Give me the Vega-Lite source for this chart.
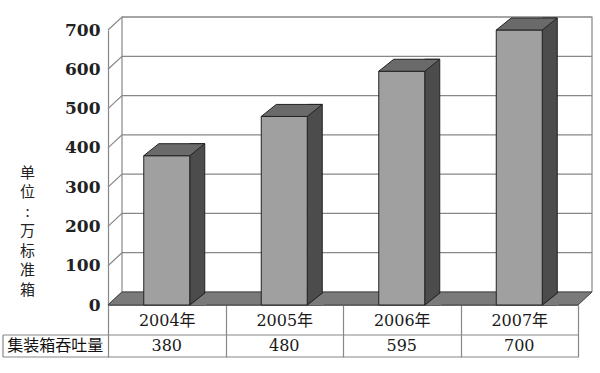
{
  "$schema": "https://vega.github.io/schema/vega-lite/v6.json",
  "width": 470,
  "height": 275,
  "autosize": {"type": "none"},
  "padding": {"left": 108, "top": 30, "right": 22, "bottom": 68},
  "background": "white",
  "config": {
    "view": {"stroke": null},
    "axisX": {
      "domainColor": "#888", "domainWidth": 1.2,
      "tickColor": "#888", "tickWidth": 1.2, "tickSize": 52, "tickBand": "extent",
      "labelFont": "DejaVu Serif, Noto Sans CJK SC", "labelFontSize": 16, "labelColor": "#1a1a1a",
      "labelPadding": -45, "labelAngle": 0, "grid": false, "zindex": 1
    },
    "axisY": {
      "domainColor": "#888", "domainWidth": 1.2, "ticks": false, "grid": false, "labelOverlap": false,
      "tickCount": 8,
      "labelFont": "DejaVu Serif", "labelFontSize": 17, "labelFontWeight": "bold", "labelColor": "#222", "labelPadding": 8
    }
  },
  "datasets": {
    "main": [
      {"year": "2004年", "value": 380},
      {"year": "2005年", "value": 480},
      {"year": "2006年", "value": 595},
      {"year": "2007年", "value": 700}
    ],
    "ticks": [
      {"tick": 0}, {"tick": 100}, {"tick": 200}, {"tick": 300},
      {"tick": 400}, {"tick": 500}, {"tick": 600}, {"tick": 700}
    ],
    "one": [{}]
  },
  "layer": [
    {
      "data": {"name": "ticks"},
      "mark": {"type": "point", "shape": "M-58.75,0L-44.75,-13L425.25,-13", "size": 4, "filled": false, "stroke": "#888", "strokeWidth": 1.2, "opacity": 1},
      "encoding": {
        "x": {"datum": "2004年", "type": "nominal", "scale": {"domain": ["2004年", "2005年", "2006年", "2007年"], "paddingInner": 0, "paddingOuter": 0}, "axis": {"title": null}},
        "y": {"field": "tick", "type": "quantitative", "scale": {"domain": [0, 700], "nice": false},
          "axis": {"values": [0, 100, 200, 300, 400, 500, 600, 700], "labelOverlap": false, "labelFlush": false, "tickCount": 8,
            "title": ["单", "位", ":", "万", "标", "准", "箱"], "titleAngle": 0, "titleX": -81, "titleY": 135,
            "titleAlign": "center", "titleBaseline": "top", "titleLineHeight": 19.5,
            "titleFont": "Noto Sans CJK SC", "titleFontSize": 15, "titleFontWeight": "normal", "titleColor": "#222"}}
      }
    },
    {
      "data": {"name": "one"},
      "mark": {"type": "point", "shape": "M-44.75,-13L-44.75,-288L425.25,-288L425.25,-13", "size": 4, "filled": false, "stroke": "#888", "strokeWidth": 1.2, "opacity": 1},
      "encoding": {
        "x": {"datum": "2004年", "type": "nominal"},
        "y": {"datum": 0, "type": "quantitative"}
      }
    },
    {
      "data": {"name": "one"},
      "mark": {"type": "point", "shape": "M-58.75,0L411.25,0L425.25,-13L-44.75,-13Z", "size": 4, "filled": true, "fill": "#7a7a7a", "stroke": "#444", "strokeWidth": 1, "opacity": 1},
      "encoding": {
        "x": {"datum": "2004年", "type": "nominal"},
        "y": {"datum": 0, "type": "quantitative"}
      }
    },
    {
      "data": {"name": "main"},
      "mark": {"type": "bar", "size": 15, "xOffset": 30.5, "yOffset": -12, "fill": "#4c4c4c", "stroke": "#222", "strokeWidth": 1},
      "encoding": {
        "x": {"field": "year", "type": "nominal"},
        "y": {"field": "value", "type": "quantitative"},
        "y2": {"datum": 0}
      }
    },
    {
      "data": {"name": "main"},
      "mark": {"type": "point", "shape": "M23,0.6L39.5,0.6L39.5,-12.4Z", "size": 4, "filled": true, "fill": "#7a7a7a", "strokeWidth": 0, "opacity": 1},
      "encoding": {
        "x": {"field": "year", "type": "nominal"},
        "y": {"datum": 0, "type": "quantitative"}
      }
    },
    {
      "data": {"name": "main"},
      "mark": {"type": "point", "shape": "M23,0L38,-12", "size": 4, "filled": false, "stroke": "#222", "strokeWidth": 1, "opacity": 1},
      "encoding": {
        "x": {"field": "year", "type": "nominal"},
        "y": {"datum": 0, "type": "quantitative"}
      }
    },
    {
      "data": {"name": "main"},
      "mark": {"type": "bar", "size": 46, "fill": "#a0a0a0", "stroke": "#222", "strokeWidth": 1},
      "encoding": {
        "x": {"field": "year", "type": "nominal"},
        "y": {"field": "value", "type": "quantitative"}
      }
    },
    {
      "data": {"name": "main"},
      "mark": {"type": "point", "shape": "M-23,0L23,0L38,-12L-8,-12Z", "size": 4, "filled": true, "fill": "#6a6a6a", "stroke": "#222", "strokeWidth": 1, "opacity": 1},
      "encoding": {
        "x": {"field": "year", "type": "nominal"},
        "y": {"field": "value", "type": "quantitative"}
      }
    },
    {
      "data": {"name": "main"},
      "mark": {"type": "text", "yOffset": 41, "baseline": "middle", "align": "center", "font": "DejaVu Serif", "fontSize": 16, "color": "#1a1a1a"},
      "encoding": {
        "x": {"field": "year", "type": "nominal"},
        "y": {"datum": 0, "type": "quantitative"},
        "text": {"field": "value", "type": "quantitative"}
      }
    },
    {
      "data": {"name": "one"},
      "mark": {"type": "text", "text": "集装箱吞吐量", "xOffset": -111.5, "yOffset": 41, "baseline": "middle", "align": "center", "font": "Noto Sans CJK SC", "fontSize": 16, "fontWeight": "normal", "color": "#111"},
      "encoding": {
        "x": {"datum": "2004年", "type": "nominal"},
        "y": {"datum": 0, "type": "quantitative"}
      }
    },
    {
      "data": {"name": "one"},
      "mark": {"type": "point", "shape": "M-163.75,30L411.25,30M-163.75,52L411.25,52M-163.75,30L-163.75,52", "size": 4, "filled": false, "stroke": "#888", "strokeWidth": 1.2, "opacity": 1},
      "encoding": {
        "x": {"datum": "2004年", "type": "nominal"},
        "y": {"datum": 0, "type": "quantitative"}
      }
    }
  ]
}
